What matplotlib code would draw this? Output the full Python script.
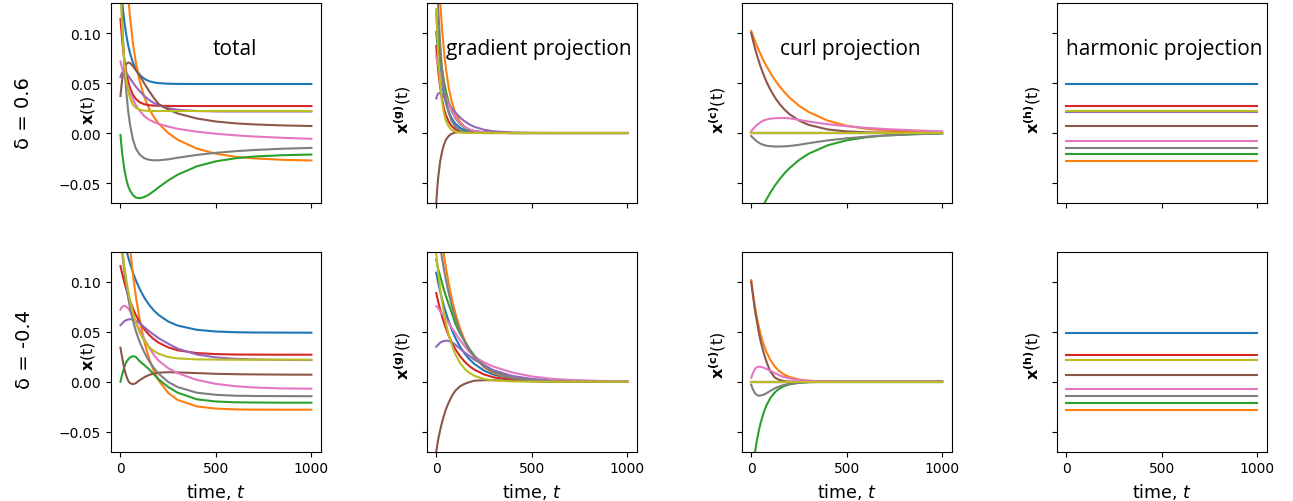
import matplotlib
matplotlib.use("Agg")
import matplotlib.pyplot as plt

# ---------------- data ----------------
T = [0, 5, 10, 20, 30, 40, 50, 65, 80, 100, 125, 150, 175, 200, 250, 300, 400, 500, 600, 700, 850, 1000]

SERIES = ["blue", "orange", "green", "red", "purple", "brown", "pink", "gray", "olive"]
COLORS = ["tab:blue", "tab:orange", "tab:green", "tab:red", "tab:purple",
          "tab:brown", "tab:pink", "tab:gray", "tab:olive"]

ROW_LABELS = ["δ = 0.6", "δ = -0.4"]
PANEL_TITLES = ["total", "gradient projection", "curl projection", "harmonic projection"]
Y_LABELS = [r"$\mathbf{x}$(t)", r"$\mathbf{x^{(g)}}$(t)", r"$\mathbf{x^{(c)}}$(t)", r"$\mathbf{x^{(h)}}$(t)"]
X_LABEL = "time, $t$"
X_TICKS = [0, 500, 1000]
Y_TICKS = [-0.05, 0.0, 0.05, 0.10]
Z = [0] * 22

# ---------- delta = 0.6 ----------
TOTAL_1 = [
    [0.150, 0.1387, 0.1286, 0.1117, 0.0985, 0.088, 0.0797, 0.0705, 0.064, 0.0583, 0.0542, 0.0518, 0.0506, 0.0499, 0.0493, 0.0491, 0.049, 0.049, 0.049, 0.049, 0.049, 0.049],
    [0.289, 0.2624, 0.2378, 0.1973, 0.1645, 0.1376, 0.1158, 0.0903, 0.0709, 0.0522, 0.0358, 0.0243, 0.0159, 0.0094, 0.0, -0.0067, -0.0156, -0.0207, -0.0237, -0.0254, -0.0268, -0.0275],
    [-0.002, -0.013, -0.022, -0.036, -0.046, -0.053, -0.0575, -0.062, -0.0645, -0.0652, -0.064, -0.0614, -0.058, -0.0543, -0.0474, -0.0416, -0.0333, -0.0283, -0.0253, -0.0235, -0.0222, -0.0215],
    [0.114, 0.1014, 0.0907, 0.0736, 0.0611, 0.0519, 0.0452, 0.0384, 0.0341, 0.0308, 0.0287, 0.0278, 0.0274, 0.0272, 0.0271, 0.027, 0.027, 0.027, 0.027, 0.027, 0.027, 0.027],
    [0.056, 0.059, 0.061, 0.0615, 0.060, 0.0575, 0.0547, 0.0505, 0.0465, 0.042, 0.037, 0.033, 0.030, 0.0277, 0.0248, 0.0232, 0.022, 0.0216, 0.0215, 0.0215, 0.0215, 0.0215],
    [0.037, 0.047, 0.055, 0.064, 0.069, 0.0705, 0.070, 0.067, 0.063, 0.0575, 0.0495, 0.042, 0.035, 0.029, 0.0235, 0.0195, 0.0145, 0.0115, 0.0097, 0.0086, 0.0076, 0.007],
    [0.0715, 0.0675, 0.0645, 0.0577, 0.0515, 0.046, 0.0405, 0.034, 0.028, 0.0223, 0.0168, 0.0133, 0.011, 0.0092, 0.0064, 0.0042, 0.0013, -0.0007, -0.0023, -0.0035, -0.0048, -0.0058],
    [0.1595, 0.1315, 0.1075, 0.0697, 0.0422, 0.0224, 0.0082, -0.0063, -0.0152, -0.0214, -0.0253, -0.0268, -0.0273, -0.0273, -0.0263, -0.0247, -0.0219, -0.0198, -0.0182, -0.017, -0.0157, -0.0149],
    [0.146, 0.1208, 0.1007, 0.072, 0.0537, 0.0421, 0.0348, 0.0285, 0.0253, 0.0233, 0.0224, 0.0221, 0.022, 0.022, 0.022, 0.022, 0.022, 0.022, 0.022, 0.022, 0.022, 0.022],
]
GRAD_1 = [
    [0.101, 0.0897, 0.0796, 0.0627, 0.0495, 0.039, 0.0307, 0.0215, 0.015, 0.0093, 0.0052, 0.0028, 0.0016, 0.0009, 0.0003, 0.0001, 0, 0, 0, 0, 0, 0],
    [0.215, 0.191, 0.169, 0.1335, 0.1054, 0.083, 0.0654, 0.0458, 0.032, 0.0199, 0.011, 0.006, 0.0033, 0.0018, 0.0006, 0.0002, 0, 0, 0, 0, 0, 0],
    [0.120, 0.108, 0.0975, 0.079, 0.0642, 0.0522, 0.0424, 0.031, 0.0227, 0.015, 0.0089, 0.0053, 0.0031, 0.0019, 0.0007, 0.0002, 0, 0, 0, 0, 0, 0],
    [0.087, 0.0744, 0.0637, 0.0466, 0.0341, 0.0249, 0.0182, 0.0114, 0.0071, 0.0038, 0.0017, 0.0008, 0.0004, 0.0002, 0, 0, 0, 0, 0, 0, 0, 0],
    [0.0345, 0.0375, 0.0395, 0.040, 0.0385, 0.036, 0.0332, 0.029, 0.025, 0.0205, 0.0155, 0.0115, 0.0085, 0.0062, 0.0033, 0.0017, 0.0005, 0.0001, 0, 0, 0, 0],
    [-0.070, -0.056, -0.045, -0.029, -0.019, -0.012, -0.007, -0.003, -0.0008, 0.0005, 0.001, 0.001, 0.0008, 0.0005, 0.0002, 0.0001, 0, 0, 0, 0, 0, 0],
    [0.077, 0.072, 0.068, 0.059, 0.051, 0.044, 0.037, 0.029, 0.022, 0.0155, 0.0095, 0.0058, 0.0035, 0.002, 0.0007, 0.0002, 0, 0, 0, 0, 0, 0],
    [0.177, 0.150, 0.127, 0.091, 0.065, 0.0466, 0.0335, 0.0203, 0.0123, 0.0063, 0.0027, 0.0012, 0.0005, 0.0002, 0, 0, 0, 0, 0, 0, 0, 0],
    [0.124, 0.0988, 0.0787, 0.050, 0.0317, 0.0201, 0.0128, 0.0065, 0.0033, 0.0013, 0.0004, 0.0001, 0, 0, 0, 0, 0, 0, 0, 0, 0, 0],
]
CURL_1 = [
    Z,
    [0.102, 0.0994, 0.0968, 0.0918, 0.0871, 0.0826, 0.0784, 0.0725, 0.0669, 0.0603, 0.0528, 0.0463, 0.0406, 0.0356, 0.0274, 0.0211, 0.0124, 0.0073, 0.0043, 0.0026, 0.0012, 0.0005],
    [-0.101, -0.0984, -0.0958, -0.0909, -0.0862, -0.0818, -0.0776, -0.0717, -0.0663, -0.0597, -0.0523, -0.0459, -0.0402, -0.0352, -0.0271, -0.0208, -0.0123, -0.0073, -0.0043, -0.0025, -0.0012, -0.0005],
    Z,
    Z,
    [0.100, 0.0959, 0.092, 0.0846, 0.0779, 0.0717, 0.0659, 0.0582, 0.0513, 0.0435, 0.0353, 0.0287, 0.0233, 0.0189, 0.0125, 0.0082, 0.0036, 0.0016, 0.0007, 0.0003, 0.0001, 0],
    [0.002, 0.003, 0.004, 0.0062, 0.008, 0.0095, 0.011, 0.0125, 0.0135, 0.0143, 0.0148, 0.015, 0.015, 0.0147, 0.0132, 0.0115, 0.0088, 0.0068, 0.0052, 0.004, 0.0027, 0.0017],
    [-0.003, -0.004, -0.005, -0.0068, -0.0083, -0.0097, -0.0108, -0.0119, -0.0127, -0.0132, -0.0135, -0.0135, -0.0133, -0.013, -0.0118, -0.0102, -0.0074, -0.0053, -0.0037, -0.0025, -0.0012, -0.0004],
    Z,
]
HARM_1 = [0.049, -0.028, -0.021, 0.027, 0.0215, 0.007, -0.0075, -0.0145, 0.022]

# ---------- delta = -0.4 ----------
TOTAL_2 = [
    [0.158, 0.1532, 0.1485, 0.1399, 0.132, 0.1248, 0.1182, 0.1094, 0.1017, 0.0929, 0.084, 0.0769, 0.0712, 0.0667, 0.0602, 0.0561, 0.0519, 0.0502, 0.0495, 0.0492, 0.0491, 0.049],
    [0.2655, 0.2486, 0.2325, 0.2031, 0.1772, 0.1542, 0.1339, 0.1078, 0.0859, 0.0624, 0.0398, 0.0231, 0.0106, 0.0012, -0.0112, -0.0183, -0.0247, -0.0269, -0.0277, -0.0279, -0.028, -0.028],
    [0.0, 0.0043, 0.0078, 0.0148, 0.0195, 0.0222, 0.0243, 0.0255, 0.0249, 0.0206, 0.0166, 0.0124, 0.0073, 0.0023, -0.0053, -0.011, -0.0176, -0.0198, -0.0206, -0.0208, -0.021, -0.021],
    [0.1156, 0.1113, 0.1072, 0.0996, 0.0926, 0.0864, 0.0807, 0.0733, 0.0668, 0.0596, 0.0524, 0.0468, 0.0424, 0.039, 0.0343, 0.0314, 0.0286, 0.0276, 0.0272, 0.0271, 0.027, 0.027],
    [0.0565, 0.0575, 0.0585, 0.0605, 0.0615, 0.0622, 0.0625, 0.0623, 0.0613, 0.0585, 0.0545, 0.0505, 0.047, 0.0435, 0.038, 0.033, 0.0272, 0.0243, 0.0229, 0.0223, 0.0218, 0.0216],
    [0.034, 0.028, 0.023, 0.013, 0.006, 0.001, -0.0015, -0.0025, -0.0015, 0.0015, 0.0045, 0.0068, 0.0082, 0.009, 0.0095, 0.0093, 0.0086, 0.0079, 0.0075, 0.0073, 0.0071, 0.007],
    [0.072, 0.074, 0.075, 0.076, 0.075, 0.0735, 0.0705, 0.065, 0.0595, 0.052, 0.0425, 0.034, 0.0268, 0.021, 0.0135, 0.0085, 0.0018, -0.0022, -0.0045, -0.0058, -0.0067, -0.007],
    [0.1475, 0.137, 0.1275, 0.1104, 0.0962, 0.0842, 0.0742, 0.0614, 0.051, 0.040, 0.0292, 0.0206, 0.0136, 0.008, -0.0002, -0.0054, -0.011, -0.0131, -0.014, -0.0143, -0.0144, -0.0145],
    [0.150, 0.1405, 0.1317, 0.1161, 0.1027, 0.0912, 0.0813, 0.0691, 0.0594, 0.0495, 0.0407, 0.0347, 0.0307, 0.0279, 0.0247, 0.0233, 0.0223, 0.0221, 0.022, 0.022, 0.022, 0.022],
]
GRAD_2 = [
    [0.109, 0.1042, 0.0995, 0.0909, 0.083, 0.0758, 0.0692, 0.0604, 0.0527, 0.0439, 0.035, 0.0279, 0.0222, 0.0177, 0.0112, 0.0071, 0.0029, 0.0012, 0.0005, 0.0002, 0.0001, 0],
    [0.192, 0.1826, 0.1735, 0.1565, 0.1412, 0.1273, 0.1149, 0.0985, 0.0843, 0.0686, 0.053, 0.041, 0.0317, 0.0245, 0.0146, 0.0087, 0.0031, 0.0011, 0.0003, 0.0001, 0, 0],
    [0.122, 0.1175, 0.113, 0.106, 0.099, 0.092, 0.086, 0.0775, 0.0695, 0.058, 0.048, 0.040, 0.0325, 0.026, 0.0168, 0.0104, 0.0035, 0.0012, 0.0004, 0.0002, 0, 0],
    [0.0886, 0.0843, 0.0802, 0.0726, 0.0656, 0.0594, 0.0537, 0.0463, 0.0398, 0.0326, 0.0254, 0.0198, 0.0154, 0.012, 0.0073, 0.0044, 0.0016, 0.0006, 0.0002, 0.0001, 0, 0],
    [0.035, 0.036, 0.037, 0.039, 0.040, 0.0407, 0.041, 0.0408, 0.0398, 0.037, 0.033, 0.029, 0.0255, 0.022, 0.0165, 0.0115, 0.0057, 0.0028, 0.0014, 0.0008, 0.0003, 0.0001],
    [-0.070, -0.064, -0.058, -0.049, -0.041, -0.034, -0.028, -0.021, -0.015, -0.009, -0.0045, -0.002, -0.0003, 0.001, 0.0015, 0.0015, 0.001, 0.0005, 0.0002, 0.0001, 0, 0],
    [0.0755, 0.075, 0.0735, 0.0705, 0.068, 0.066, 0.0632, 0.0585, 0.0542, 0.0485, 0.0415, 0.0353, 0.0297, 0.0252, 0.0193, 0.0151, 0.0091, 0.0053, 0.003, 0.0017, 0.0008, 0.0005],
    [0.165, 0.1573, 0.150, 0.1364, 0.124, 0.1127, 0.1025, 0.0889, 0.077, 0.0637, 0.0502, 0.0396, 0.0312, 0.0246, 0.0153, 0.0095, 0.0036, 0.0014, 0.0005, 0.0002, 0.0001, 0],
    [0.128, 0.1185, 0.1097, 0.0941, 0.0807, 0.0692, 0.0593, 0.0471, 0.0374, 0.0275, 0.0187, 0.0127, 0.0087, 0.0059, 0.0027, 0.0013, 0.0003, 0.0001, 0, 0, 0, 0],
]
CURL_2 = [
    Z,
    [0.1015, 0.094, 0.087, 0.0746, 0.064, 0.0549, 0.047, 0.0373, 0.0296, 0.0218, 0.0148, 0.0101, 0.0069, 0.0047, 0.0022, 0.001, 0.0002, 0, 0, 0, 0, 0],
    [-0.101, -0.0922, -0.0842, -0.0702, -0.0585, -0.0488, -0.0407, -0.031, -0.0236, -0.0164, -0.0104, -0.0066, -0.0042, -0.0027, -0.0011, -0.0004, -0.0001, 0, 0, 0, 0, 0],
    Z,
    Z,
    [0.100, 0.092, 0.085, 0.071, 0.060, 0.049, 0.040, 0.029, 0.020, 0.010, 0.004, 0.0015, 0.0005, 0, 0, 0, 0, 0, 0, 0, 0, 0],
    [0.004, 0.0065, 0.009, 0.013, 0.0145, 0.015, 0.0148, 0.014, 0.0128, 0.011, 0.0085, 0.0062, 0.0046, 0.0033, 0.0017, 0.0009, 0.0002, 0, 0, 0, 0, 0],
    [-0.003, -0.0058, -0.008, -0.0115, -0.0133, -0.014, -0.0138, -0.013, -0.0115, -0.0092, -0.0065, -0.0045, -0.0031, -0.0021, -0.001, -0.0004, -0.0001, 0, 0, 0, 0, 0],
    Z,
]
HARM_2 = [0.049, -0.028, -0.021, 0.027, 0.0215, 0.007, -0.0075, -0.0145, 0.022]

# ---------------- figure ----------------
fig = plt.figure(figsize=(12.93, 5.02), dpi=100)
lefts = [0.0858, 0.330, 0.5736, 0.8172]
bottoms = [0.5936, 0.0982]
W, H = 0.1624, 0.3984

rows = [(TOTAL_1, GRAD_1, CURL_1, HARM_1), (TOTAL_2, GRAD_2, CURL_2, HARM_2)]

for r, (tot, grd, crl, hrm) in enumerate(rows):
    for c in range(4):
        ax = fig.add_axes([lefts[c], bottoms[r], W, H])
        if c < 3:
            data = [tot, grd, crl][c]
            for vals, col in zip(data, COLORS):
                ax.plot(T, vals, color=col, lw=1.5)
        else:
            for v, col in zip(hrm, COLORS):
                ax.plot([T[0], T[-1]], [v, v], color=col, lw=1.5)
        ax.set_xlim(-50, 1050)
        ax.set_ylim(-0.07, 0.13)
        ax.set_xticks(X_TICKS)
        ax.set_yticks(Y_TICKS)
        ax.tick_params(labelsize=10)
        if c > 0:
            ax.set_yticklabels([])
        if r == 0:
            ax.set_xticklabels([])
        else:
            ax.set_xlabel(X_LABEL, fontsize=12.5)
        ax.set_ylabel(Y_LABELS[c], fontsize=11.5)
        ax.yaxis.set_label_coords(-0.066, 0.47 if r == 0 else 0.485)
        if r == 0:
            xs = [0.59, 0.532, 0.516, 0.514][c]
            ax.text(xs, 0.745, PANEL_TITLES[c], transform=ax.transAxes,
                    ha="center", va="baseline", fontsize=15,
                    family=["Open Sans", "DejaVu Sans"])

fig.text(0.018, 0.775, ROW_LABELS[0], rotation=90, ha="center", va="center", fontsize=14)
fig.text(0.019, 0.303, ROW_LABELS[1], rotation=90, ha="center", va="center", fontsize=14)

fig.savefig("out.png", dpi=100)
